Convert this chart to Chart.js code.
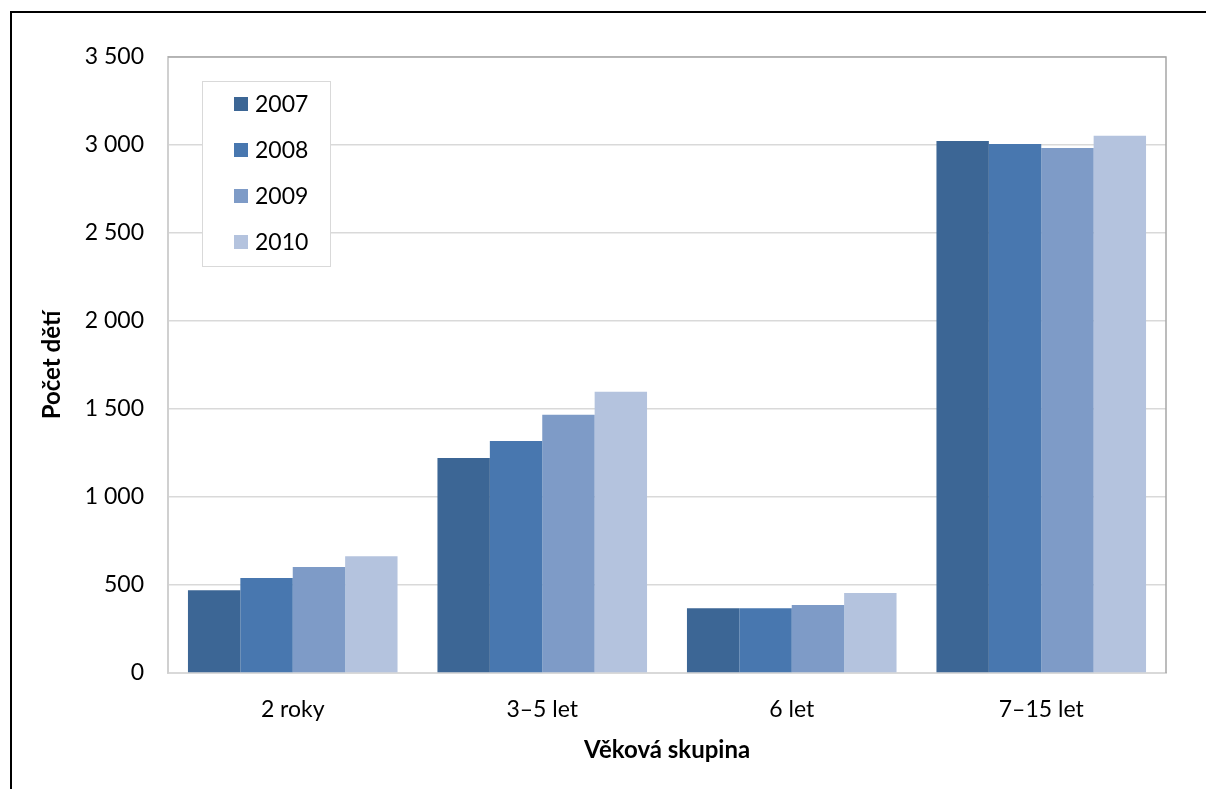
<!DOCTYPE html>
<html>
<head>
<meta charset="utf-8">
<script src="https://cdn.jsdelivr.net/npm/chart.js@4"></script>
<style>
  body { margin: 0; background: #fff; }
  #wrap { position: relative; width: 1206px; height: 789px; }
  #frame { position: absolute; left: 10px; top: 11px; right: 0; bottom: 0;
           border-top: 2px solid #000; border-left: 2px solid #000; pointer-events: none; }
</style>
</head>
<body>
<div id="wrap">
  <canvas id="chart" width="1206" height="789"></canvas>
  <div id="frame"></div>
</div>
<script>
const categories = ['2 roky', '3\u20135 let', '6 let', '7\u201315 let'];
const years = ['2007', '2008', '2009', '2010'];
const values2007 = [470, 1222, 368, 3023];
const values2008 = [540, 1318, 368, 3006];
const values2009 = [602, 1467, 386, 2983];
const values2010 = [664, 1598, 455, 3052];
const colors = ['#3c6695', '#4877af', '#7e9bc7', '#b4c3de'];

const FONT = 'Lato, "Open Sans", sans-serif';

// legend box drawn inside the plot like the original
const innerLegend = {
  id: 'innerLegend',
  afterDraw(chart) {
    const ctx = chart.ctx;
    const x0 = 202, y0 = 81, w = 128, h = 185;
    ctx.save();
    ctx.fillStyle = '#fff';
    ctx.fillRect(x0, y0, w, h);
    ctx.strokeStyle = '#d9d9d9';
    ctx.lineWidth = 1;
    ctx.strokeRect(x0 + 0.5, y0 + 0.5, w, h);
    ctx.font = '23px ' + FONT;
    ctx.textBaseline = 'middle';
    chart.data.datasets.forEach((ds, i) => {
      const cy = 104 + i * 46;
      ctx.fillStyle = ds.backgroundColor;
      ctx.fillRect(234, cy - 7, 14, 14);
      ctx.fillStyle = '#000';
      ctx.fillText(ds.label, 255, cy + 1);
    });
    ctx.restore();
  }
};

const plotBorder = {
  id: 'plotBorder',
  afterDraw(chart) {
    const a = chart.chartArea;
    const ctx = chart.ctx;
    ctx.save();
    ctx.strokeStyle = '#a6a6a6';
    ctx.lineWidth = 1.5;
    ctx.beginPath();
    ctx.moveTo(a.left, a.top);
    ctx.lineTo(a.right, a.top);
    ctx.lineTo(a.right, a.bottom);
    ctx.stroke();
    ctx.restore();
  }
};

const seriesValues = [values2007, values2008, values2009, values2010];

new Chart(document.getElementById('chart'), {
  type: 'bar',
  data: {
    labels: categories,
    datasets: years.map((y, i) => ({
      label: y,
      data: seriesValues[i],
      backgroundColor: colors[i],
      borderWidth: 0,
      categoryPercentage: 0.84,
      barPercentage: 1
    }))
  },
  options: {
    responsive: false,
    animation: false,
    layout: { padding: { top: 57, right: 40, bottom: 20, left: 38 } },
    plugins: { legend: { display: false }, tooltip: { enabled: false } },
    scales: {
      x: {
        grid: { display: false, drawTicks: false },
        border: { color: '#d9d9d9', width: 2 },
        ticks: { color: '#000', font: { family: FONT, size: 23 }, padding: 23 },
        title: { display: true, text: 'V\u011bkov\u00e1 skupina', color: '#000',
                 font: { family: FONT, size: 24, weight: 'bold' }, padding: { top: 4, bottom: 4 } },
        afterFit(scale) { scale.height = 96; }
      },
      y: {
        min: 0,
        max: 3500,
        grid: { color: '#d9d9d9', lineWidth: 1.5, drawTicks: false },
        border: { color: '#d0d0d0', width: 2 },
        ticks: {
          stepSize: 500,
          color: '#000',
          padding: 24,
          font: { family: FONT, size: 23 },
          callback: v => String(v).replace(/\B(?=(\d{3})+(?!\d))/g, ' ')
        },
        title: { display: true, text: 'Po\u010det d\u011bt\u00ed', color: '#000',
                 font: { family: FONT, size: 24, weight: 'bold' }, padding: { top: 0, bottom: 0 } },
        afterFit(scale) { scale.width = 130; }
      }
    }
  },
  plugins: [plotBorder, innerLegend]
});
</script>
</body>
</html>
